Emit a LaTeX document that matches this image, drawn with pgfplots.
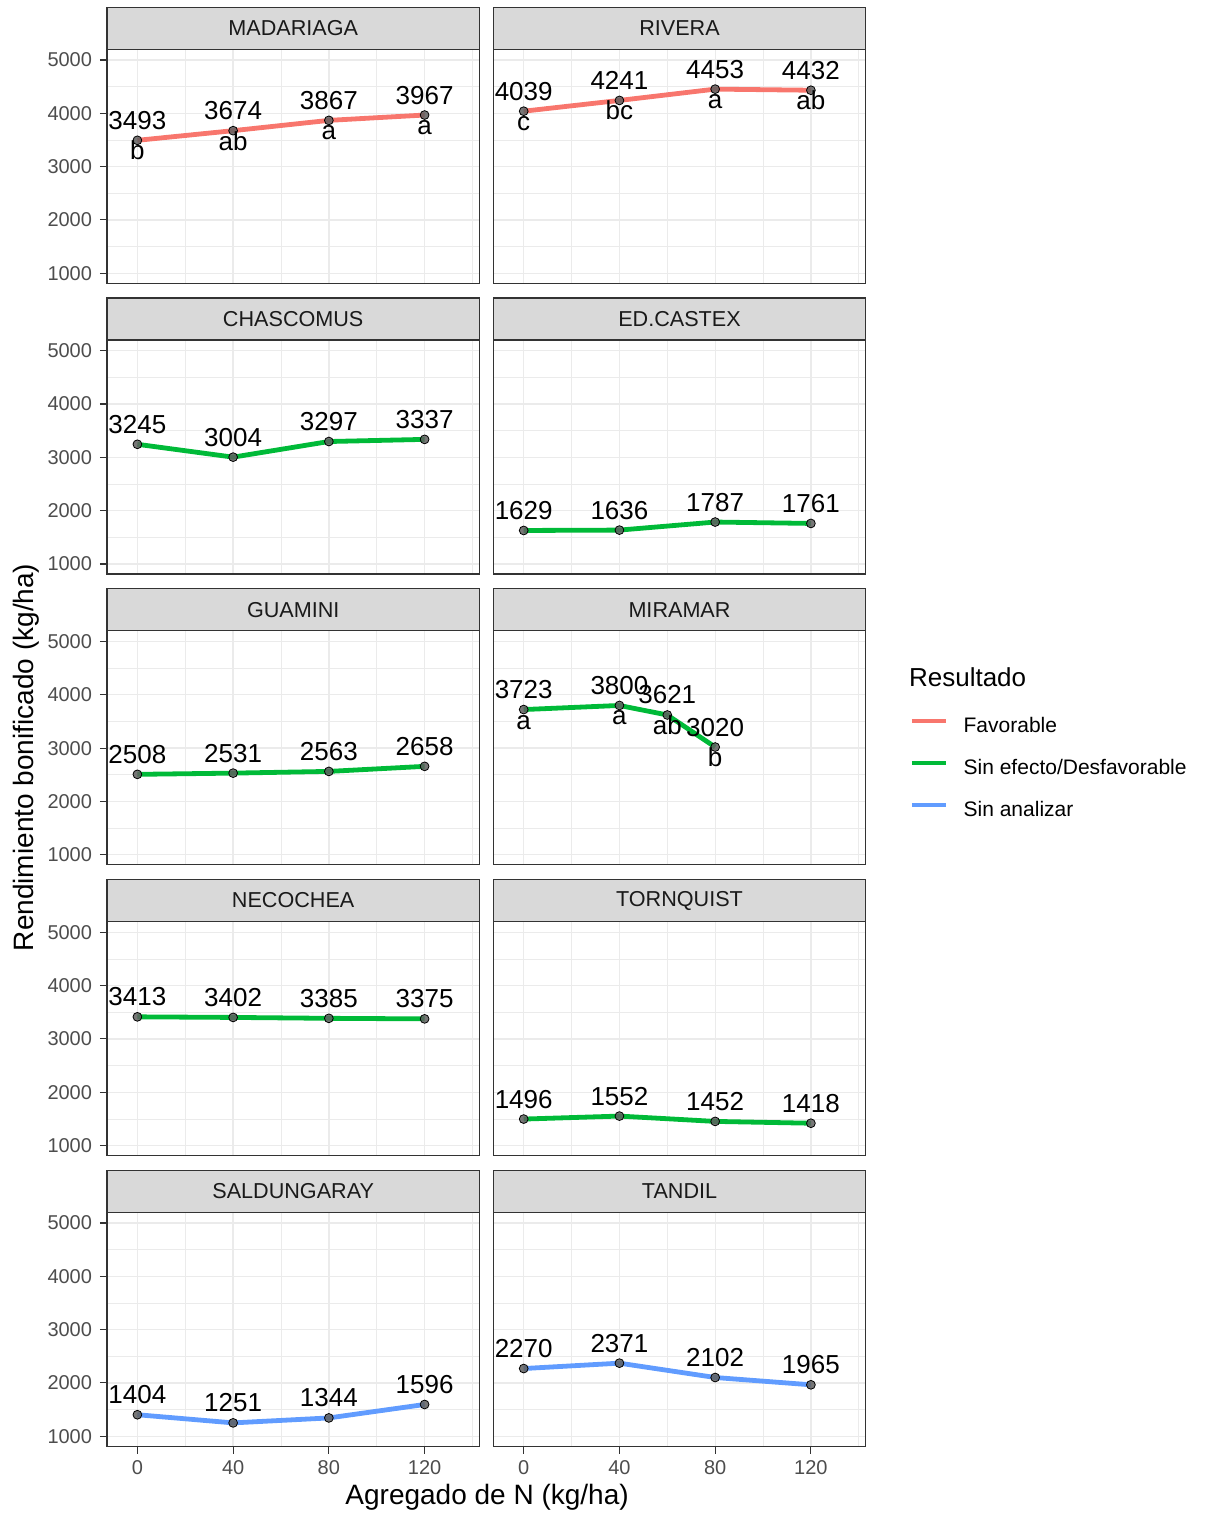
\documentclass[border=0pt]{standalone}
\usepackage{fontspec}
\setmainfont{Liberation Sans}
\usepackage{pgfplots}
\usepackage{pgfplotstable}
\pgfplotsset{compat=1.18}

\definecolor{cRed}{HTML}{F8766D}
\definecolor{cGreen}{HTML}{00BA38}
\definecolor{cBlue}{HTML}{619CFF}
\definecolor{grey85}{HTML}{D9D9D9}
\definecolor{grey20}{HTML}{333333}
\definecolor{grey92}{HTML}{EBEBEB}
\definecolor{grey30}{HTML}{4D4D4D}
\definecolor{grey10}{HTML}{1A1A1A}
\definecolor{ptgray}{HTML}{5F5F5F}

\pgfplotstableread{
x y lab
0 3493 b
40 3674 ab
80 3867 a
120 3967 a
}\tMad
\pgfplotstableread{
x y lab
0 4039 c
40 4241 bc
80 4453 a
120 4432 ab
}\tRiv
\pgfplotstableread{
x y
0 3245
40 3004
80 3297
120 3337
}\tCha
\pgfplotstableread{
x y
0 1629
40 1636
80 1787
120 1761
}\tCas
\pgfplotstableread{
x y
0 2508
40 2531
80 2563
120 2658
}\tGua
\pgfplotstableread{
x y lab
0 3723 a
40 3800 a
60 3621 ab
80 3020 b
}\tMir
\pgfplotstableread{
x y
0 3413
40 3402
80 3385
120 3375
}\tNec
\pgfplotstableread{
x y
0 1496
40 1552
80 1452
120 1418
}\tTor
\pgfplotstableread{
x y
0 1404
40 1251
80 1344
120 1596
}\tSal
\pgfplotstableread{
x y
0 2270
40 2371
80 2102
120 1965
}\tTan

\pgfplotsset{
  every axis title/.style={at={(0.5,1)}, anchor=south, fill=grey85, draw=grey20,
    line width=0.55pt, minimum width=186.2pt, minimum height=21pt, inner sep=0pt,
    outer sep=0pt, font=\fontsize{10.8}{13}\selectfont, text=grey10},
  panel/.style={
    scale only axis, width=186.2pt, height=117pt, anchor=south west,
    xmin=-12.7, xmax=142.9, ymin=812, ymax=5200,
    xtick={0,40,80,120}, ytick={1000,2000,3000,4000,5000},
    minor xtick={20,60,100,140}, minor ytick={1500,2500,3500,4500},
    grid=both,
    major grid style={draw=grey92, line width=0.65pt},
    minor grid style={draw=grey92, line width=0.35pt},
    axis line style={draw=grey20, line width=0.55pt},
    tick align=outside, major tick length=3.6pt, minor tick length=0pt,
    tick style={draw=grey20, line width=0.55pt},
    xtick pos=left, ytick pos=left,
    /pgf/number format/assume math mode=true,
    ticklabel style={font=\fontsize{10}{12}\selectfont, text=grey30, inner sep=0pt},
    xticklabel shift=3.25pt, yticklabel shift=3.7pt,
    xticklabels={}, yticklabels={},
  },
  noxt/.style={xtick style={draw=none}},
  noyt/.style={ytick style={draw=none}},
  withxt/.style={xticklabels={0,40,80,120}},
  withyt/.style={yticklabels={1000,2000,3000,4000,5000}},
  ln/.style={line width=2.4pt, draw=#1},
  pts/.style={only marks, mark=*, mark size=2.2pt,
    mark options={draw=none, fill=ptgray, fill opacity=0.85}},
  numlab/.style={draw=none, nodes near coords, point meta=explicit symbolic,
    nodes near coords align={anchor=base},
    nodes near coords style={inner sep=0pt, yshift=5.5pt,
      font=\fontsize{13}{15}\selectfont, text=black}},
  letlab/.style={draw=none, nodes near coords, point meta=explicit symbolic,
    nodes near coords align={anchor=base},
    nodes near coords style={inner sep=0pt, yshift=-9.75pt,
      font=\fontsize{13}{15}\selectfont, text=black}},
}

\begin{document}
\begin{tikzpicture}
\useasboundingbox (0,0) rectangle (603.5pt,758pt);

% Row 1
\begin{axis}[panel, noxt, withyt, at={(53.5pt,616.35pt)}, title={MADARIAGA}]
\addplot[ln=cRed] table[x=x,y=y] \tMad;
\addplot[pts] table[x=x,y=y] \tMad;
\addplot[numlab] table[x=x,y=y,meta=y] \tMad;
\addplot[letlab] table[x=x,y=y,meta=lab] \tMad;
\end{axis}
\begin{axis}[panel, noxt, noyt, at={(246.65pt,616.35pt)}, title={RIVERA}]
\addplot[ln=cRed] table[x=x,y=y] \tRiv;
\addplot[pts] table[x=x,y=y] \tRiv;
\addplot[numlab] table[x=x,y=y,meta=y] \tRiv;
\addplot[letlab] table[x=x,y=y,meta=lab] \tRiv;
\end{axis}

% Row 2
\begin{axis}[panel, noxt, withyt, at={(53.5pt,470.975pt)}, title={CHASCOMUS}]
\addplot[ln=cGreen] table[x=x,y=y] \tCha;
\addplot[pts] table[x=x,y=y] \tCha;
\addplot[numlab] table[x=x,y=y,meta=y] \tCha;
\end{axis}
\begin{axis}[panel, noxt, noyt, at={(246.65pt,470.975pt)}, title={ED.CASTEX}]
\addplot[ln=cGreen] table[x=x,y=y] \tCas;
\addplot[pts] table[x=x,y=y] \tCas;
\addplot[numlab] table[x=x,y=y,meta=y] \tCas;
\end{axis}

% Row 3
\begin{axis}[panel, noxt, withyt, at={(53.5pt,325.6pt)}, title={GUAMINI},
  ylabel={Rendimiento bonificado (kg/ha)},
  ylabel style={at={(axis description cs:-0.2156,0.459)}, anchor=center, rotate=0,
    font=\fontsize{14}{16}\selectfont, text=black, inner sep=0pt}]
\addplot[ln=cGreen] table[x=x,y=y] \tGua;
\addplot[pts] table[x=x,y=y] \tGua;
\addplot[numlab] table[x=x,y=y,meta=y] \tGua;
\end{axis}
\begin{axis}[panel, noxt, noyt, at={(246.65pt,325.6pt)}, title={MIRAMAR},
  legend style={at={(1.1172,0.6316)}, anchor=north west, draw=none, fill=none,
    inner sep=0pt, row sep=11.425pt, font=\fontsize{10.5}{12}\selectfont,
    nodes={inner sep=0pt, text height=7.5pt, text depth=2.2pt},
    /tikz/every odd column/.append style={column sep=7.95pt}},
  legend cell align=left,
  legend image code/.code={\draw[#1] (0pt,3.2pt) -- (17pt,3.2pt);},
  extra description/.code={\node[anchor=base west, inner sep=0pt,
    font=\fontsize{13}{15}\selectfont] at (1.1154,0.7615) {Resultado};}]
\addlegendimage{cRed, line width=2pt}
\addlegendentry{Favorable}
\addlegendimage{cGreen, line width=2pt}
\addlegendentry{Sin efecto/Desfavorable}
\addlegendimage{cBlue, line width=2pt}
\addlegendentry{Sin analizar}
\addplot[ln=cGreen, forget plot] table[x=x,y=y] \tMir;
\addplot[pts, forget plot] table[x=x,y=y] \tMir;
\addplot[numlab, forget plot] table[x=x,y=y,meta=y] \tMir;
\addplot[letlab, forget plot] table[x=x,y=y,meta=lab] \tMir;
\end{axis}

% Row 4
\begin{axis}[panel, noxt, withyt, at={(53.5pt,180.225pt)}, title={NECOCHEA}]
\addplot[ln=cGreen] table[x=x,y=y] \tNec;
\addplot[pts] table[x=x,y=y] \tNec;
\addplot[numlab] table[x=x,y=y,meta=y] \tNec;
\end{axis}
\begin{axis}[panel, noxt, noyt, at={(246.65pt,180.225pt)}, title={TORNQUIST}]
\addplot[ln=cGreen] table[x=x,y=y] \tTor;
\addplot[pts] table[x=x,y=y] \tTor;
\addplot[numlab] table[x=x,y=y,meta=y] \tTor;
\end{axis}

% Row 5
\begin{axis}[panel, withxt, withyt, at={(53.5pt,34.85pt)}, title={SALDUNGARAY},
  xlabel={Agregado de N (kg/ha)},
  xlabel style={at={(axis description cs:1.0207,-0.219)}, anchor=center,
    font=\fontsize{14}{16}\selectfont, text=black, inner sep=0pt}]
\addplot[ln=cBlue] table[x=x,y=y] \tSal;
\addplot[pts] table[x=x,y=y] \tSal;
\addplot[numlab] table[x=x,y=y,meta=y] \tSal;
\end{axis}
\begin{axis}[panel, withxt, noyt, at={(246.65pt,34.85pt)}, title={TANDIL}]
\addplot[ln=cBlue] table[x=x,y=y] \tTan;
\addplot[pts] table[x=x,y=y] \tTan;
\addplot[numlab] table[x=x,y=y,meta=y] \tTan;
\end{axis}
\end{tikzpicture}
\end{document}
